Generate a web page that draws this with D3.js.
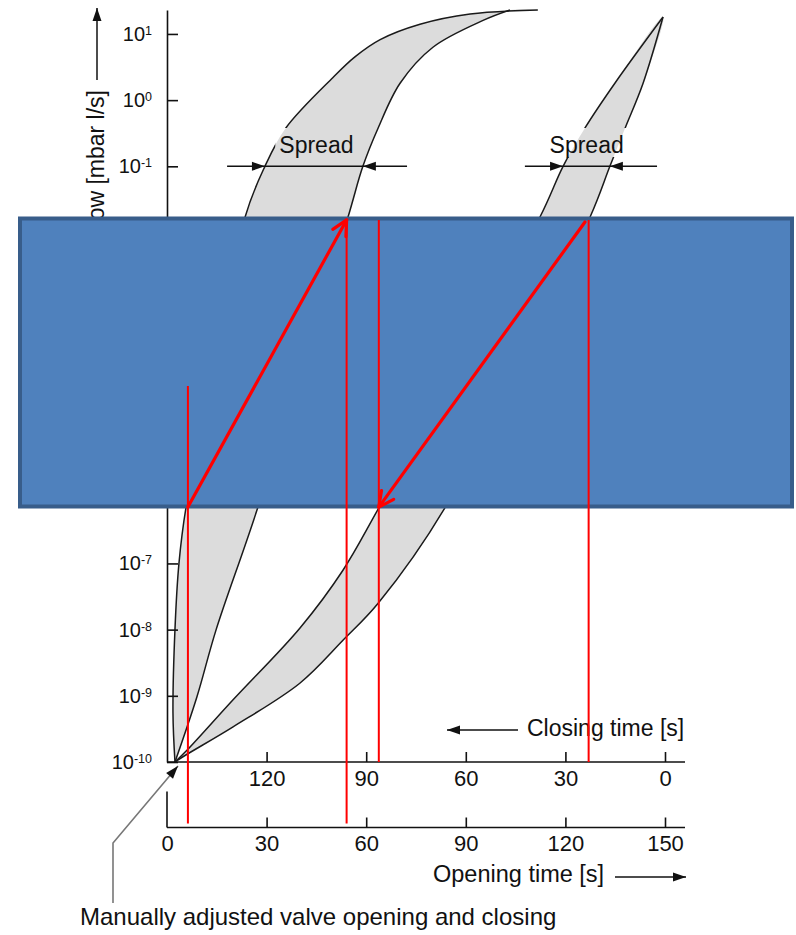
<!DOCTYPE html>
<html>
<head>
<meta charset="utf-8">
<title>Valve opening and closing spread</title>
<script src="https://d3js.org/d3.v7.min.js"></script>
<style>
  body { margin: 0; background: #fff; }
  svg { display: block; font-family: "Liberation Sans", Arial, Helvetica, sans-serif; }
  text { fill: #111; }
</style>
</head>
<body>
<svg width="796" height="935"></svg>
<script>
// ---- data ----
const yTicks = [1e-10, 1e-9, 1e-8, 1e-7, 1e-6, 1e-5, 1e-4, 1e-3, 1e-2, 1e-1, 1, 10];
const openTicks = [0, 30, 60, 90, 120, 150];
const closeTicks = [0, 30, 60, 90, 120];

// opening band, opening time [s] vs flow [mbar l/s]
const openFastT = [2.4, 1.8, 2.4, 3.6, 5.7, 23.5, 29.5, 35.8, 50.0, 56.6, 64.2, 76.2, 91.3, 111.7];
const openFastQ = [1e-10, 5.5e-10, 1e-8, 1e-7, 6.9e-7, 1.7e-2, 0.1, 0.38, 2.2, 4.5, 8.2, 14, 20, 23];
const openSlowT = [2.4, 9.0, 14.8, 27.1, 54.5, 59.0, 63.6, 70.2, 80.1, 95.2, 103.3];
const openSlowQ = [1e-10, 9.6e-10, 1e-8, 6.4e-7, 1.7e-2, 0.1, 0.38, 1.8, 6.3, 16, 23];

// closing band, closing time [s] vs flow
const closeAT = [147.6, 144.0, 130.1, 110.0, 97.0, 86.2, 37.7, 30.7, 24.1, 15.1, 0.6];
const closeAQ = [1e-10, 1.5e-10, 8.7e-10, 1.05e-8, 7.9e-8, 6.9e-7, 1.7e-2, 0.1, 0.38, 1.8, 18];
const closeBT = [147.6, 145.2, 130.1, 110.0, 97.0, 86.4, 66.3, 22.6, 16.6, 12.0, 6.6, 0.6];
const closeBQ = [1e-10, 1.2e-10, 3.4e-10, 1.55e-9, 6.9e-9, 2.5e-8, 6.9e-7, 1.7e-2, 0.1, 0.38, 1.8, 18];

// spread markers at 10^-1
const spreadScale = ['open', 'close'];
const spreadFrom = [18.1, 42.2];
const spreadTo = [72.3, 2.4];
const spreadTipA = [29.5, 30.7];
const spreadTipB = [59.0, 16.6];
const spreadLabelAt = [45.0, 23.6];
const spreadFlow = 0.1;

// red overlay
const redLineScale = ['open', 'open', 'close', 'close'];
const redLineTime = [6.3, 54.1, 86.2, 23.0];
const redLineTop = [4.8e-5, 1.55e-2, 1.55e-2, 1.55e-2];
const redArrowScale = ['open', 'close'];
const redArrowFrom = [[6.3, 7.1e-7], [24.1, 1.44e-2]];
const redArrowTo = [[54.1, 1.55e-2], [86.2, 7.1e-7]];

// ---- layout ----
const svg = d3.select('svg');
const closeAxisY = 762, openAxisY = 827.5, axisEnd = 685;
const xOpen = d3.scaleLinear().domain([0, 150]).range([167, 665]);
const xClose = d3.scaleLinear().domain([150, 0]).range([167, 665]);
const y = d3.scaleLog().domain([1e-10, 23]).range([762, 10]);
const xs = {open: xOpen, close: xClose};
const ink = '#111';

const defs = svg.append('defs');
defs.append('marker').attr('id', 'tri')
  .attr('viewBox', '-14 -6 15 12').attr('refX', 0).attr('refY', 0)
  .attr('markerWidth', 15).attr('markerHeight', 12)
  .attr('markerUnits', 'userSpaceOnUse').attr('orient', 'auto')
  .append('path').attr('d', 'M-13,-4.5L0,0L-13,4.5Z').attr('fill', ink);
defs.append('marker').attr('id', 'vee')
  .attr('viewBox', '-19 -11 22 22').attr('refX', 0).attr('refY', 0)
  .attr('markerWidth', 22).attr('markerHeight', 22)
  .attr('markerUnits', 'userSpaceOnUse').attr('orient', 'auto')
  .append('path').attr('d', 'M-15,-7.5L0,0L-15,7.5')
  .attr('fill', 'none').attr('stroke', '#ff0000').attr('stroke-width', 3.2)
  .attr('stroke-linecap', 'round').attr('stroke-linejoin', 'round');
// gaps in the curve strokes behind the "Spread" labels
const gapMask = defs.append('mask').attr('id', 'gap').attr('maskUnits', 'userSpaceOnUse')
  .attr('x', 0).attr('y', 0).attr('width', 796).attr('height', 935);
gapMask.append('rect').attr('width', 796).attr('height', 935).attr('fill', '#fff');

// ---- bands ----
const fills = svg.append('g');
const strokes = svg.append('g').attr('mask', 'url(#gap)');
function band(sx, a, b) {
  const line = d3.line().x(d => sx(d[0])).y(d => y(d[1])).curve(d3.curveCatmullRom.alpha(0.5));
  let back = b.slice().reverse().slice(0, -1);
  const last = a[a.length - 1];
  if (back[0][0] === last[0] && back[0][1] === last[1]) back = back.slice(1);
  fills.append('path')
    .attr('d', line(a.concat(back)) + 'Z')
    .attr('fill', '#dcdcdc').attr('stroke', 'none');
  [a, b].forEach(edge => {
    strokes.append('path').attr('d', line(edge))
      .attr('fill', 'none').attr('stroke', '#1a1a1a').attr('stroke-width', 1.5);
  });
}
band(xOpen, d3.zip(openFastT, openFastQ), d3.zip(openSlowT, openSlowQ));
band(xClose, d3.zip(closeAT, closeAQ), d3.zip(closeBT, closeBQ));

// ---- spread annotations ----
spreadScale.forEach((s, i) => {
  const sx = xs[s], yy = y(spreadFlow);
  const g = svg.append('g');
  const t = g.append('text')
    .attr('x', sx(spreadLabelAt[i])).attr('y', 153)
    .attr('text-anchor', 'middle').attr('font-size', 23).text('Spread');
  const bb = t.node().getBBox();
  gapMask.append('rect')
    .attr('x', bb.x - 4).attr('y', bb.y - 4).attr('width', bb.width + 8).attr('height', bb.height + 3)
    .attr('fill', '#000');
  g.append('line')
    .attr('x1', sx(spreadFrom[i])).attr('x2', sx(spreadTo[i]))
    .attr('y1', yy).attr('y2', yy).attr('stroke', ink).attr('stroke-width', 1.5);
  const tipA = sx(spreadTipA[i]), tipB = sx(spreadTipB[i]);
  const l = Math.min(tipA, tipB), r = Math.max(tipA, tipB);
  g.append('path').attr('d', `M${l - 13},${yy - 4.5}L${l},${yy}L${l - 13},${yy + 4.5}Z`).attr('fill', ink);
  g.append('path').attr('d', `M${r + 13},${yy - 4.5}L${r},${yy}L${r + 13},${yy + 4.5}Z`).attr('fill', ink);
});

// ---- axes ----
const yAxisG = svg.append('g').attr('transform', `translate(${xOpen(0)},0)`)
  .call(d3.axisLeft(y).tickValues(yTicks).tickSizeInner(-11).tickSizeOuter(0)
    .tickPadding(15).tickFormat(''));
yAxisG.attr('color', ink).attr('font-family', null).attr('font-size', 20);
yAxisG.selectAll('path, line').attr('stroke-width', 1.6);
yAxisG.selectAll('.tick text').each(function (d) {
  const e = Math.round(Math.log10(d));
  const t = d3.select(this).attr('fill', ink);
  t.append('tspan').text('10');
  t.append('tspan').attr('font-size', 12.5).attr('dy', -6).text(e);
});

function timeAxis(sx, ticks, ay) {
  const g = svg.append('g').attr('transform', `translate(0,${ay})`)
    .call(d3.axisBottom(sx).tickValues(ticks).tickSizeInner(-10).tickSizeOuter(0).tickPadding(8));
  g.attr('color', ink).attr('font-family', null).attr('font-size', 22);
  g.select('.domain').remove();
  g.selectAll('line').attr('stroke-width', 1.6);
  g.selectAll('text').attr('fill', ink);
  g.append('line').attr('x1', xOpen(0)).attr('x2', axisEnd)
    .attr('stroke', ink).attr('stroke-width', 1.6);
  return g;
}
timeAxis(xClose, closeTicks, closeAxisY);
const openG = timeAxis(xOpen, openTicks, openAxisY);
openG.selectAll('.tick').filter(d => d === 0).select('line').remove();
svg.append('line').attr('x1', xOpen(0)).attr('x2', xOpen(0))
  .attr('y1', openAxisY - 36).attr('y2', openAxisY)
  .attr('stroke', ink).attr('stroke-width', 1.6);

// axis titles with arrows
svg.append('text').attr('x', 527).attr('y', 736).attr('font-size', 23).text('Closing time [s]');
svg.append('line').attr('x1', 518).attr('x2', 447).attr('y1', 730).attr('y2', 730)
  .attr('stroke', ink).attr('stroke-width', 1.5).attr('marker-end', 'url(#tri)');
svg.append('text').attr('x', 433).attr('y', 882).attr('font-size', 23.5).text('Opening time [s]');
svg.append('line').attr('x1', 615).attr('x2', 686).attr('y1', 877).attr('y2', 877)
  .attr('stroke', ink).attr('stroke-width', 1.5).attr('marker-end', 'url(#tri)');
svg.append('text').attr('transform', 'translate(104,90) rotate(-90)')
  .attr('text-anchor', 'end').attr('font-size', 23).text('Gas flow [mbar l/s]');
svg.append('line').attr('x1', 97).attr('x2', 97).attr('y1', 80).attr('y2', 8)
  .attr('stroke', ink).attr('stroke-width', 1.5).attr('marker-end', 'url(#tri)');

// leader to the common origin
const originX = xOpen(openFastT[0]), originY = y(1e-10);
svg.append('path')
  .attr('d', `M113,903L113,843L${originX + 3},${originY + 4}`)
  .attr('fill', 'none').attr('stroke', '#777').attr('stroke-width', 1.6)
  .attr('marker-end', 'url(#tri)');
svg.append('text').attr('x', 80).attr('y', 925).attr('font-size', 24)
  .text('Manually adjusted valve opening and closing');

// ---- overlay box ----
svg.append('rect').attr('x', 20).attr('y', 218.5).attr('width', 772).attr('height', 288)
  .attr('fill', '#4f81bd').attr('stroke', '#385d8a').attr('stroke-width', 4);

// ---- red lines and arrows ----
const red = svg.append('g').attr('stroke', '#ff0000').attr('fill', 'none');
redLineScale.forEach((s, i) => {
  const x = xs[s](redLineTime[i]);
  red.append('line').attr('x1', x).attr('x2', x)
    .attr('y1', y(redLineTop[i]))
    .attr('y2', s === 'open' ? openAxisY - 4 : closeAxisY)
    .attr('stroke-width', 2);
});
redArrowScale.forEach((s, i) => {
  const sx = xs[s];
  red.append('line')
    .attr('x1', sx(redArrowFrom[i][0])).attr('y1', y(redArrowFrom[i][1]))
    .attr('x2', sx(redArrowTo[i][0])).attr('y2', y(redArrowTo[i][1]))
    .attr('stroke-width', 3.2).attr('stroke-linecap', 'round')
    .attr('marker-end', 'url(#vee)');
});
</script>
</body>
</html>
